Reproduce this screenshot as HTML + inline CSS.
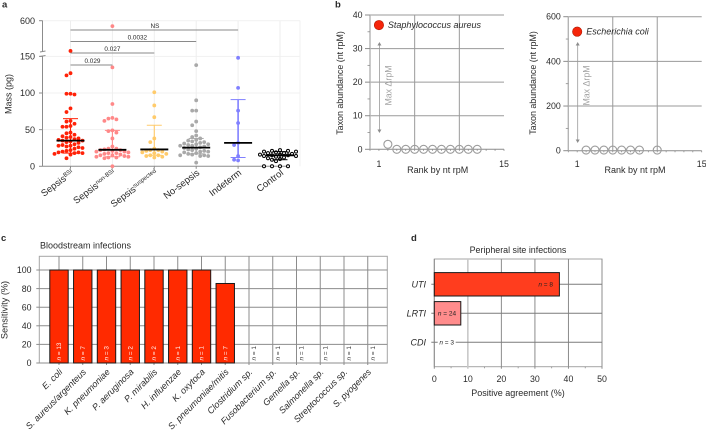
<!DOCTYPE html>
<html lang="en">
<head>
<meta charset="utf-8">
<title>Sepsis metagenomics figure</title>
<style>
html,body{margin:0;padding:0;background:#fff;width:706px;height:432px;overflow:hidden}
svg{display:block;font-family:"Liberation Sans",sans-serif}
text{fill:#2a2a2a}
</style>
</head>
<body>
<svg id="fig" width="706" height="432" viewBox="0 0 706 432" xmlns="http://www.w3.org/2000/svg"></svg>
<script>
// ---- Panel a data ----
const massGroups = ['Sepsis', 'Sepsis', 'Sepsis', 'No-sepsis', 'Indeterm', 'Control'];
const massGroupSup = ['BSI', 'non-BSI', 'suspected', '', '', ''];
const massBsi = [158,127,124,99,99,98,79,74,62,61,58,55,54,54,46,45,43,41,40,39,38,37,36,35,35,34,33,32,30,29,28,28,27,26,25,24,22,21,20,19,19,18,18,17,16,11];
const massNonBsi = [520,135,85,66,65,64,62,49,48,46,38,27,24,24,23,22,22,21,20,20,19,18,18,17,16,15,15,14,13,13,12,12,11,0];
const massSuspected = [101,83,67,38,33,24,22,22,21,20,19,18,17,15,15,14,13,12];
const massNoSepsis = [138,90,76,76,61,56,48,42,40,38,36,35,34,33,32,31,30,30,29,28,28,27,26,25,24,23,22,21,20,20,19,18,17,16,15,15,14,14,5];
const massIndeterm = [148,107,76,59,32,29,14,9,8];
const massControl = [22,21,21,20,20,19,18,18,17,16,16,15,15,14,14,13,12,11,10,9,7,0,0,0,0];
const massMedians = [35,22.5,23,25.5,32,15];
const massErrHigh = [65,49,56,38,91,20];
const massErrLow = [18,13,15,17,12,9];
const massTicks = [0,50,100,150,600];
const bracketLabels = ['0.029','0.027','0.0032','NS'];
// ---- Panel b data ----
const saureusRanks = [1,2,3,4,5,6,7,8,9,10,11,12];
const saureusValues = [37,1.5,0,0,0,0,0,0,0,0,0,0];
const ecoliRanks = [1,2,3,4,5,6,7,8,10];
const ecoliValues = [533,3,3,3,3,3,3,3,3];
const saureusTicks = [0,10,20,30,40];
const ecoliTicks = [0,200,400,600];
// ---- Panel c data ----
const bloodTaxa = ['E. coli','S. aureus/argenteus','K. pneumoniae','P. aeruginosa','P. mirabilis','H. influenzae','K. oxytoca','S. pneumoniae/mitis','Clostridium sp.','Fusobacterium sp.','Gemella sp.','Salmonella sp.','Streptococcus sp.','S. pyogenes'];
const bloodSensitivity = [100,100,100,100,100,100,100,85.5,0,0,0,0,0,0];
const bloodN = [13,7,3,2,2,1,1,7,1,1,1,1,1,1];
const bloodTicks = [0,20,40,60,80,100];
// ---- Panel d data ----
const siteNames = ['UTI','LRTI','CDI'];
const siteAgreement = [37.3,7.9,0];
const siteN = [8,24,3];
const siteTicks = [0,10,20,30,40,50];

const SVGNS = 'http://www.w3.org/2000/svg';
const fig = document.getElementById('fig');
function add(parent, tag, attrs, txt) {
  const e = document.createElementNS(SVGNS, tag);
  for (const k in attrs) e.setAttribute(k, attrs[k]);
  if (txt !== undefined) e.textContent = txt;
  parent.appendChild(e);
  return e;
}
function line(p, x1, y1, x2, y2, stroke, w) {
  return add(p, 'line', {x1:x1, y1:y1, x2:x2, y2:y2, stroke:stroke, 'stroke-width':w === undefined ? 1 : w});
}
function group(parent) { return add(parent, 'g', {}); }

// Panel letters
const letterText = ['a','b','c','d'];
const letterNames = ['panel-a-label','panel-b-label','panel-c-label','panel-d-label'];
const letterSpots = [[2,7.5],[335,7.5],[1,241],[411,241]];
letterText.forEach(function (t, i) {
  const l = add(fig, 'text', {x:letterSpots[i][0], y:letterSpots[i][1], 'font-size':9.5, 'font-weight':'bold', fill:'#000'}, t);
  
  
});

// ================= PANEL A =================
const panelA = group(fig);


function aY(v) { return v <= 150 ? 166.3 - v * 0.733 : 51.5 - (v - 150) * (30.8 / 450); }
function aX(i) { return 70.5 + i * 41.9; }

const aGrid = group(panelA);


massTicks.slice(1).forEach(function (t) { line(aGrid, 42.5, aY(t), 300, aY(t), '#f1f1f1', 1); });
massGroups.forEach(function (g, i) { line(aGrid, aX(i), 20.5, aX(i), 166.3, '#eeeeee', 1); });
line(aGrid, 300, 20.5, 300, 166.3, '#f1f1f1', 1);

const aAxis = group(panelA);


line(aAxis, 42.5, 20.5, 42.5, 51.5, '#8c8c8c', 1);
line(aAxis, 42.5, 56, 42.5, 166.3, '#8c8c8c', 1);
line(aAxis, 40, 52, 45.5, 51, '#8c8c8c', 1);
line(aAxis, 40, 56.5, 45.5, 55.5, '#8c8c8c', 1);
massTicks.forEach(function (t) {
  line(aAxis, 39, aY(t), 42.5, aY(t), '#8c8c8c', 1);
  const lab = add(aAxis, 'text', {x:35, y:aY(t) + 3.2, 'font-size':9, 'text-anchor':'end'}, t);
  
  
});
const aBase = line(panelA, 42.5, 166.3, 290, 166.3, '#8c8c8c', 1);


const aTitle = add(panelA, 'text', {transform:'translate(11.5,94) rotate(-90)', 'font-size':9, 'text-anchor':'middle'}, 'Mass (pg)');



// Beeswarm drawn from the value arrays
function swarm(values, sep) {
  const placed = [];
  const sorted = values.slice().sort(function (a, b) { return b - a; });
  const offs = [0,-4,4,-8,8,-12,12,-16,16,-20,20,-24,24];
  sorted.forEach(function (v) {
    const y = aY(v);
    for (let k = 0; k < offs.length; k++) {
      const ok = placed.every(function (p) { return Math.hypot(p.o - offs[k], p.y - y) > sep; });
      if (ok) { placed.push({o:offs[k], y:y}); break; }
    }
  });
  return placed;
}
const massSeries = [massBsi, massNonBsi, massSuspected, massNoSepsis, massIndeterm, massControl];
const massColors = ['#ff2208','#ff8888','#ffcb6b','#a9a9a9','#8080ff','#000'];
const massSeriesNames = ['sepsis-bsi','sepsis-non-bsi','sepsis-suspected','no-sepsis','indeterminate','control'];
massSeries.forEach(function (vals, i) {
  const g = group(panelA);
  
  
  const cx = aX(i), col = massColors[i];
  const hollow = i === 5;
  swarm(vals, hollow ? 4.2 : 3.7).forEach(function (p) {
    const c = add(g, 'circle', hollow ? {cx:cx + p.o, cy:p.y, r:1.5, fill:'#fff', stroke:'#000', 'stroke-width':1} : {cx:cx + p.o, cy:p.y, r:1.9, fill:col});
    
    
  });
  const errCol = hollow ? '#000' : col;
  const err = group(g);
  
  
  line(err, cx, aY(massErrHigh[i]), cx, aY(massErrLow[i]), errCol, i === 4 ? 1.6 : 1.1);
  line(err, cx - 7.5, aY(massErrHigh[i]), cx + 7.5, aY(massErrHigh[i]), errCol, 1);
  line(err, cx - 7.5, aY(massErrLow[i]), cx + 7.5, aY(massErrLow[i]), errCol, 1);
  const med = line(g, cx - 14, aY(massMedians[i]), cx + 14, aY(massMedians[i]), '#000', 1.8);
  
  
  line(aAxis, cx, 166.3, cx, 168.8, '#8c8c8c', 1);
  const lab = add(panelA, 'text', {transform:'translate(' + (cx + 4) + ',174) rotate(-37)', 'font-size':9.5, 'text-anchor':'end'});
  
  
  add(lab, 'tspan', {}, massGroups[i]);
  if (massGroupSup[i]) add(lab, 'tspan', {dy:-3, 'font-size':6}, massGroupSup[i]);
});

// Significance brackets
const bracketSpan = [1,2,3,4];
const bracketYs = [65,53,41.5,30];
bracketLabels.forEach(function (t, i) {
  const g = group(panelA);
  
  
  const x2 = aX(bracketSpan[i]);
  line(g, aX(0), bracketYs[i], x2, bracketYs[i], '#8a8a8a', 1);
  const tx = i === 3 ? 155 : (aX(0) + x2) / 2 + (i === 0 ? 1 : i === 1 ? 0 : 4);
  add(g, 'text', {x:tx, y:bracketYs[i] - 1.8, 'font-size':6.4, 'text-anchor':'middle'}, t);
});

// ================= PANEL B =================
function rankPanel(cfg) {
  const p = group(fig);
  const xx = function (r) { return cfg.left + r * (cfg.right - cfg.left) / 15; };
  const yy = function (v) { return cfg.bottom - v * (cfg.bottom - cfg.top) / cfg.max; };
  const grid = group(p);
  cfg.ticks.forEach(function (t) {
    line(grid, cfg.left, yy(t), cfg.right, yy(t), t === 0 ? '#8c8c8c' : '#9a9a9a', 1);
  });
  line(grid, cfg.left, cfg.top, cfg.left, cfg.bottom, '#b4b4b4', 1.4);
  [5,10].forEach(function (r) { line(grid, xx(r), cfg.top, xx(r), cfg.bottom, '#9a9a9a', 1); });
  for (let r = 0; r <= 15; r++) line(grid, xx(r), cfg.bottom, xx(r), cfg.bottom + 1.6, '#8c8c8c', 0.8);
  cfg.ticks.forEach(function (t, i) {
    line(grid, cfg.left - 5, yy(t), cfg.left, yy(t), '#8c8c8c', 1);
    if (i < cfg.ticks.length - 1) {
      const m = (t + cfg.ticks[i + 1]) / 2;
      line(grid, cfg.left - 2.5, yy(m), cfg.left, yy(m), '#8c8c8c', 0.8);
    }
    add(p, 'text', {x:cfg.left - 7.5, y:yy(t) + 3, 'font-size':cfg.fs, 'text-anchor':'end'}, t);
  });
  add(p, 'text', {x:xx(1), y:167, 'font-size':cfg.fs, 'text-anchor':'middle'}, '1');
  add(p, 'text', {x:xx(15), y:167, 'font-size':cfg.fs, 'text-anchor':'middle'}, '15');
  add(p, 'text', {x:cfg.xLabelX, y:173, 'font-size':9, 'text-anchor':'middle'}, 'Rank by nt rpM');
  add(p, 'text', {transform:'translate(' + cfg.yLabelX + ',83) rotate(-90)', 'font-size':8.9, 'text-anchor':'middle'}, 'Taxon abundance (nt rpM)');
  cfg.ranks.forEach(function (r, i) {
    if (i === 0) return;
    const c = add(p, 'circle', {cx:xx(r), cy:yy(cfg.values[i]), r:4, fill:'none', stroke:'#9c9c9c', 'stroke-width':1.1});
    
    
  });
  const top = add(p, 'circle', {cx:xx(cfg.ranks[0]), cy:yy(cfg.values[0]), r:4.7, fill:'#f5250a', stroke:'#b01800', 'stroke-width':0.6});
  
  
  const name = add(p, 'text', {x:xx(cfg.ranks[0]) + 9, y:yy(cfg.values[0]) + 3, 'font-size':9, 'font-style':'italic'}, cfg.taxon);
  
  
  const ax = xx(1) + 0.5;
  const arrow = group(p);
  
  
  line(arrow, ax, cfg.a1 + 2, ax, cfg.a2 - 2, '#9a9a9a', 0.8);
  add(arrow, 'path', {d:'M' + (ax - 2) + ' ' + (cfg.a1 + 3.5) + 'L' + ax + ' ' + cfg.a1 + 'L' + (ax + 2) + ' ' + (cfg.a1 + 3.5) + 'Z', fill:'#8c8c8c'});
  add(arrow, 'path', {d:'M' + (ax - 2) + ' ' + (cfg.a2 - 3.5) + 'L' + ax + ' ' + cfg.a2 + 'L' + (ax + 2) + ' ' + (cfg.a2 - 3.5) + 'Z', fill:'#8c8c8c'});
  const mx = add(p, 'text', {transform:'translate(' + (ax + 12) + ',85.5) rotate(-90)', 'font-size':8.8, 'text-anchor':'middle', style:'fill:#a3a3a3'}, 'Max \u0394rpM');
  
  
  return p;
}
const panelB1 = rankPanel({left:370, right:504, top:15, bottom:149.3, max:40, ticks:saureusTicks, ranks:saureusRanks, values:saureusValues, taxon:'Staphylococcus aureus', a1:42, a2:133, xLabelX:437.7, yLabelX:343, fs:8.8});


const panelB2 = rankPanel({left:568.3, right:701.7, top:16.7, bottom:150.7, max:600, ticks:ecoliTicks, ranks:ecoliRanks, values:ecoliValues, taxon:'Escherichia coli', a1:42, a2:143, xLabelX:635, yLabelX:536, fs:8.8});



// ================= PANEL C =================
const panelC = group(fig);


const cLeft = 39.3, cRight = 387.3, cTop = 256.3, cBottom = 363;
function cY(v) { return cBottom - v * 0.93; }
function cX(i) { return 59 + i * 23.75; }
const cTitle = add(panelC, 'text', {x:40, y:248.5, 'font-size':9}, 'Bloodstream infections');


const cGrid = group(panelC);


add(cGrid, 'rect', {x:cLeft, y:cTop, width:cRight - cLeft, height:cBottom - cTop, fill:'none', stroke:'#a5a5a5', 'stroke-width':1});
bloodTicks.forEach(function (t) {
  line(cGrid, cLeft, cY(t), cRight, cY(t), '#8c8c8c', 1);
  line(cGrid, cLeft - 3, cY(t), cLeft, cY(t), '#8c8c8c', 1);
  const lab = add(panelC, 'text', {x:31.5, y:cY(t) + 3.2, 'font-size':8.8, 'text-anchor':'end'}, t);
  
  
});
bloodTaxa.forEach(function (t, i) {
  line(cGrid, cX(i), cTop, cX(i), cBottom + 2, '#8c8c8c', 1);
});
const cTitleY = add(panelC, 'text', {transform:'translate(7.5,310) rotate(-90)', 'font-size':9.2, 'text-anchor':'middle'}, 'Sensitivity (%)');


bloodTaxa.forEach(function (t, i) {
  const v = bloodSensitivity[i];
  if (v > 0) {
    const b = add(panelC, 'rect', {x:cX(i) - 9.2, y:cY(v), width:18.4, height:cBottom - cY(v), fill:'#ff2a00', stroke:'#1a1a1a', 'stroke-width':1});
    
    
  }
  const n = add(panelC, 'text', {transform:'translate(' + (cX(i) + (v > 0 ? 2 : 7)) + ',360.5) rotate(-90)', 'font-size':6.4, style:'fill:' + (v > 0 ? '#fff' : '#333')});
  
  
  add(n, 'tspan', {'font-style':'italic'}, 'n');
  add(n, 'tspan', {}, ' = ' + bloodN[i]);
  const lab = add(panelC, 'text', {transform:'translate(' + (cX(i) + 4) + ',372.5) rotate(-45)', 'font-size':9, 'font-style':'italic', 'text-anchor':'end'}, t);
  
  
});

// ================= PANEL D =================
const panelD = group(fig);


const dLeft = 434.3, dRight = 602, dTop = 259, dBottom = 366.7;
function dX(v) { return dLeft + v * (dRight - dLeft) / 50; }
function dY(i) { return 284.3 + i * 29; }
const dTitle = add(panelD, 'text', {x:518, y:253, 'font-size':8.9, 'text-anchor':'middle'}, 'Peripheral site infections');


const dGrid = group(panelD);


add(dGrid, 'rect', {x:dLeft, y:dTop, width:dRight - dLeft, height:dBottom - dTop, fill:'none', stroke:'#a5a5a5', 'stroke-width':1});
siteTicks.forEach(function (t) {
  line(dGrid, dX(t), dTop, dX(t), dBottom + 2, t === 10 ? '#c8c8c8' : '#8c8c8c', t === 10 ? 1.6 : 1);
  line(dGrid, dX(t + 5), dBottom, dX(t + 5), dBottom + 1.6, '#8c8c8c', t === 50 ? 0 : 0.8);
  const lab = add(panelD, 'text', {x:dX(t), y:382, 'font-size':8.8, 'text-anchor':'middle'}, t);
  
  
});
const dXTitle = add(panelD, 'text', {x:518, y:396, 'font-size':9, 'text-anchor':'middle'}, 'Positive agreement (%)');


const siteFills = ['#ff3d1e','#ff8c8c','#fff'];
const siteLabelX = [545.7,447,446.7];
siteNames.forEach(function (s, i) {
  line(dGrid, dLeft - 3, dY(i), dRight, dY(i), '#7c7c7c', 1);
  const cat = add(panelD, 'text', {x:426, y:dY(i) + 3, 'font-size':9, 'font-style':'italic', 'text-anchor':'end'}, s);
  
  
  if (siteAgreement[i] > 0) {
    const b = add(panelD, 'rect', {x:dX(0), y:dY(i) - 11.7, width:dX(siteAgreement[i]) - dX(0), height:23.4, fill:siteFills[i], stroke:'#1a1a1a', 'stroke-width':1});
    
    
  } else {
    add(panelD, 'rect', {x:siteLabelX[i] - 9, y:dY(i) - 3, width:18, height:6, fill:'#fff'});
  }
  const n = add(panelD, 'text', {x:siteLabelX[i], y:dY(i) + 2.2, 'font-size':6.5, 'text-anchor':'middle', style:'fill:#222'});
  
  
  add(n, 'tspan', {'font-style':'italic'}, 'n');
  add(n, 'tspan', {}, ' = ' + siteN[i]);
});
</script>
</body>
</html>
